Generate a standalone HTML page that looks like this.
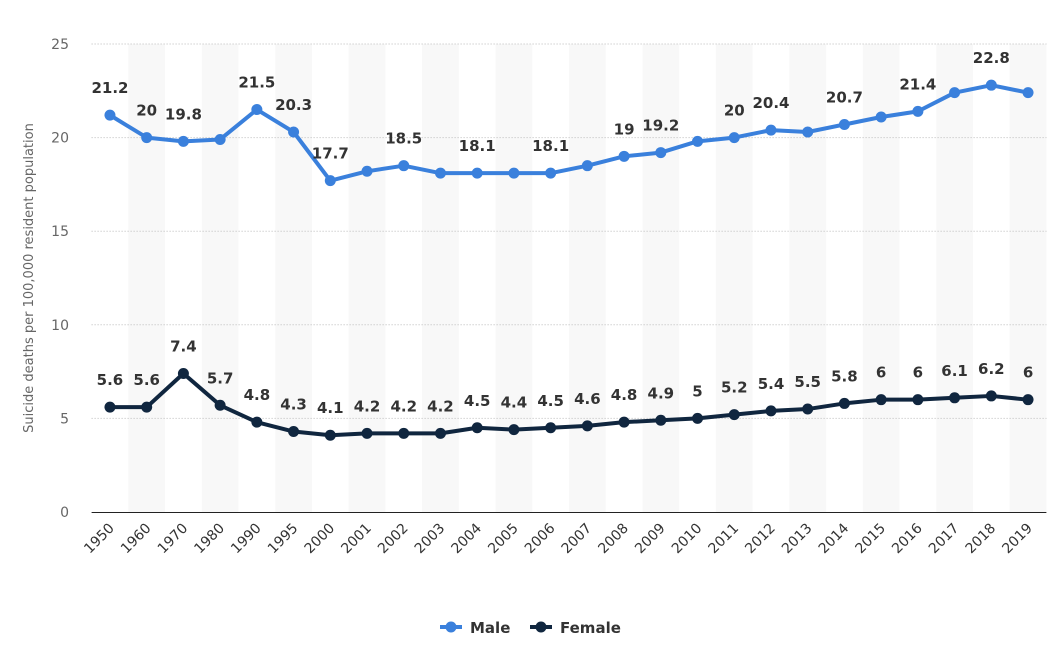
<!DOCTYPE html>
<html><head><meta charset="utf-8"><style>
body{margin:0;background:#fff;font-family:"DejaVu Sans","Liberation Sans",sans-serif}
svg{display:block}
</style></head><body>
<svg id="chart" width="1063" height="660" xmlns="http://www.w3.org/2000/svg" font-family="DejaVu Sans, Liberation Sans, sans-serif">
<g id="bands"></g>
<g id="grid"></g>
<line x1="91.6" x2="1046.4" y1="512.5" y2="512.5" stroke="#222" stroke-width="1"/>
<g id="yticks"></g>
<g id="xticks"></g>
<text transform="translate(33,278) rotate(-90)" text-anchor="middle" font-size="13" fill="#666">Suicide deaths per 100,000 resident population</text>
<g id="series"></g>
<g>
<g>
<line x1="440" y1="627" x2="462" y2="627" stroke="#3a80dc" stroke-width="4"/>
<circle cx="451" cy="627" r="5.5" fill="#3a80dc"/>
<text x="470" y="633" font-size="15" font-weight="bold" fill="#333">Male</text></g>
<g>
<line x1="530" y1="627" x2="552" y2="627" stroke="#10263f" stroke-width="4"/>
<circle cx="541" cy="627" r="5.5" fill="#10263f"/>
<text x="560" y="633" font-size="15" font-weight="bold" fill="#333">Female</text></g>
</g>
</svg>
<script>
const categories=["1950","1960","1970","1980","1990","1995","2000","2001","2002","2003","2004","2005","2006","2007","2008","2009","2010","2011","2012","2013","2014","2015","2016","2017","2018","2019"];
const maleValues=[21.2,20,19.8,19.9,21.5,20.3,17.7,18.2,18.5,18.1,18.1,18.1,18.1,18.5,19,19.2,19.8,20,20.4,20.3,20.7,21.1,21.4,22.4,22.8,22.4];
const maleLabels=["21.2","20","19.8",null,"21.5","20.3","17.7",null,"18.5",null,"18.1",null,"18.1",null,"19","19.2",null,"20","20.4",null,"20.7",null,"21.4",null,"22.8",null];
const femaleValues=[5.6,5.6,7.4,5.7,4.8,4.3,4.1,4.2,4.2,4.2,4.5,4.4,4.5,4.6,4.8,4.9,5,5.2,5.4,5.5,5.8,6,6,6.1,6.2,6];
const yTicks=[0,5,10,15,20,25];
const NS="http://www.w3.org/2000/svg";
const L=91.6,R=1046.4,T=44,B=512,yMax=25;
const step=(R-L)/categories.length;
const xs=i=>L+step*(i+0.5);
const ys=v=>B-(v/yMax)*(B-T);
function mk(tag,attrs,parent){const e=document.createElementNS(NS,tag);for(const k in attrs)e.setAttribute(k,attrs[k]);parent.appendChild(e);return e;}
const bands=document.getElementById('bands'),grid=document.getElementById('grid'),yt=document.getElementById('yticks'),xt=document.getElementById('xticks'),ser=document.getElementById('series');
categories.forEach((c,i)=>{
 if(i%2===1){const r=mk('rect',{x:L+step*i,y:T,width:step,height:B-T,fill:'#f8f8f8'},bands);
 
 }
 const t=mk('text',{transform:`translate(${xs(i)+5},${B+17}) rotate(-45)`,'text-anchor':'end','font-size':'14',fill:'#333'},xt);
 t.textContent=c;
 
 
});
yTicks.forEach(v=>{
 if(v>0){const g=mk('line',{x1:L,x2:R,y1:ys(v),y2:ys(v),stroke:'#bbb','stroke-dasharray':'1,2'},grid);
 
 }
 const t=mk('text',{x:69,y:ys(v)+5,'text-anchor':'end','font-size':'14',fill:'#666'},yt);
 t.textContent=v;
 
 
});
function drawSeries(name,vals,labels,color){
 const g=mk('g',{},ser);
 
 
 const p=mk('polyline',{points:vals.map((v,i)=>xs(i)+','+ys(v)).join(' '),fill:'none',stroke:color,'stroke-width':'4','stroke-linejoin':'round'},g);
 
 
 vals.forEach((v,i)=>{
  const c=mk('circle',{cx:xs(i),cy:ys(v),r:5.5,fill:color},g);
  
  
  const lab=labels?labels[i]:String(v);
  if(lab!==null){
   const t=mk('text',{x:xs(i),y:ys(v)-22,'text-anchor':'middle','font-size':'15','font-weight':'bold',fill:'#333'},g);
   t.textContent=lab;
   
   
  }
 });
}
drawSeries('male',maleValues,maleLabels,'#3a80dc');
drawSeries('female',femaleValues,null,'#10263f');
</script>
</body></html>
